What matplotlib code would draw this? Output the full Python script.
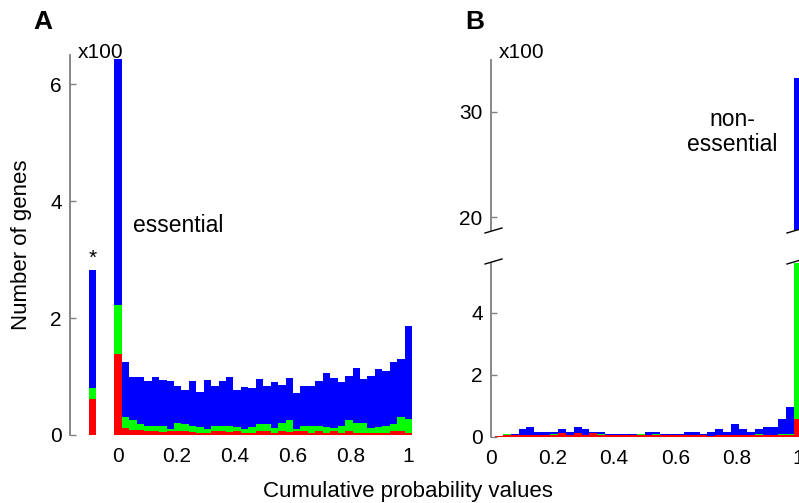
import numpy as np
import matplotlib
matplotlib.use('Agg')
import matplotlib.pyplot as plt
from matplotlib.lines import Line2D

plt.rcParams['font.family'] = ['Liberation Sans', 'DejaVu Sans']

# gene counts per bin of cumulative probability (40 bins, 0 .. 1)
# essential genes: red / green / blue stacked segments
ess_red = [138, 12, 9, 8, 7, 6, 5, 6, 7, 6, 5, 3, 3, 7, 7, 5, 6, 4, 4, 6,
           6, 4, 6, 5, 6, 7, 4, 7, 3, 6, 4, 7, 3, 4, 4, 3, 4, 6, 7, 4]
ess_green = [85, 19, 16, 11, 9, 9, 11, 5, 14, 13, 11, 11, 8, 9, 9, 11, 7, 7, 9, 13,
             13, 8, 15, 20, 5, 8, 11, 8, 11, 6, 11, 18, 18, 17, 8, 10, 11, 13, 24, 23]
ess_blue = [421, 94, 74, 81, 76, 85, 78, 82, 62, 58, 76, 60, 83, 67, 76, 84, 64, 71, 67, 76,
            64, 78, 65, 72, 61, 68, 68, 78, 92, 85, 75, 76, 94, 74, 89, 100, 95, 106, 99, 159]
# genes without a probability value (bar marked with *)
star_red, star_green, star_blue = 61, 19, 203

# non-essential genes
non_red = [0, 3, 5, 6, 6, 6, 6, 6, 6, 13, 6, 13, 6, 13, 6, 6, 6, 6, 6, 6,
           6, 6, 6, 6, 6, 6, 6, 6, 2, 6, 6, 6, 6, 6, 6, 6, 6, 6, 6, 58]
non_green = [0, 0, 5, 0, 0, 0, 0, 0, 4, 0, 0, 0, 0, 0, 4, 0, 0, 0, 0, 4,
             0, 4, 0, 0, 0, 0, 0, 0, 0, 0, 0, 0, 0, 0, 4, 0, 0, 5, 5, 700]
non_blue = [1, 0, 0, 3, 19, 27, 11, 11, 7, 12, 11, 20, 19, 4, 7, 4, 4, 4, 4, 0,
            11, 7, 4, 4, 4, 11, 11, 4, 15, 19, 11, 36, 19, 11, 15, 27, 27, 46, 87, 2562]

xticks = [0, 0.2, 0.4, 0.6, 0.8, 1]
xticklabels = ['0', '0.2', '0.4', '0.6', '0.8', '1']

W, H = 799, 503
fig = plt.figure(figsize=(W / 100, H / 100), dpi=100)
GREY = '#7f7f7f'
COLS = ['#ff0000', '#00ff00', '#0000ff']


def add_px_axes(x0, y0, x1, y1):
    return fig.add_axes([x0 / W, 1 - y1 / H, (x1 - x0) / W, (y1 - y0) / H])


def style(ax):
    for s in ['top', 'right', 'bottom']:
        ax.spines[s].set_visible(False)
    ax.spines['left'].set_color(GREY)
    ax.spines['left'].set_linewidth(1.3)
    ax.tick_params(axis='y', direction='in', length=4.5, width=1, color=GREY,
                   labelsize=15, pad=6)
    ax.tick_params(axis='x', length=0, labelsize=15, pad=9)
    ax.patch.set_visible(False)


def stacked(ax, x, red, green, blue, width):
    red = np.asarray(red) / 100
    green = np.asarray(green) / 100
    blue = np.asarray(blue) / 100
    bottom = np.zeros_like(red)
    for vals, c in zip([red, green, blue], COLS):
        ax.bar(x, vals, width=width, bottom=bottom, color=c, linewidth=0)
        bottom = bottom + vals


n_bins = len(ess_red)
centers = np.linspace(0, 1, n_bins)
bw = 1 / (n_bins - 1)

# panel A: essential
axA = add_px_axes(70, 55, 417, 435)
stacked(axA, centers, ess_red, ess_green, ess_blue, bw)
star_x = -0.088
stacked(axA, [star_x], [star_red], [star_green], [star_blue], bw)
star_top = (star_red + star_green + star_blue) / 100
axA.text(star_x, star_top + 0.03, '*', ha='center', va='bottom', fontsize=15)
axA.set_xlim(-0.166, 1.03)
axA.set_ylim(0, 6.5)
axA.set_yticks([0, 2, 4, 6])
axA.set_yticklabels(['0', '2', '4', '6'])
axA.set_xticks(xticks)
axA.set_xticklabels(xticklabels)
style(axA)

# panel B: non-essential, broken y axis
axB = add_px_axes(491, 263, 802, 437)
stacked(axB, centers, non_red, non_green, non_blue, bw)
axB.set_xlim(0, 1.013)
axB.set_ylim(0, 5.6)
axB.set_yticks([0, 2, 4])
axB.set_yticklabels(['0', '2', '4'])
axB.set_xticks(xticks)
axB.set_xticklabels(xticklabels)
style(axB)

axBt = add_px_axes(491, 60, 802, 230)
stacked(axBt, centers, non_red, non_green, non_blue, bw)
axBt.set_xlim(0, 1.013)
axBt.set_ylim(18.8, 34.9)
axBt.set_yticks([20, 30])
axBt.set_yticklabels(['20', '30'])
axBt.set_xticks([])
style(axBt)

# break marks
for x0 in (485, 787):
    for y0 in (233, 264):
        fig.add_artist(Line2D([x0 / W, (x0 + 17) / W], [1 - y0 / H, 1 - (y0 - 5) / H],
                              color='black', lw=1))

fig.text(78 / W, 1 - 58 / H, 'x100', fontsize=15, va='baseline')
fig.text(499 / W, 1 - 58 / H, 'x100', fontsize=15, va='baseline')
fig.text(178 / W, 1 - 225 / H, 'essential', fontsize=16.5, ha='center', va='center')
fig.text(732 / W, 1 - 132 / H, 'non-\nessential', fontsize=16.5, ha='center',
         va='center', multialignment='center', linespacing=1.15)
fig.text(43 / W, 1 - 22 / H, 'A', fontsize=19, fontweight='bold', ha='center', va='center')
fig.text(475 / W, 1 - 22 / H, 'B', fontsize=19, fontweight='bold', ha='center', va='center')
fig.text(22 / W, 1 - 245 / H, 'Number of genes', fontsize=16, rotation=90,
         ha='center', va='center')
fig.text(408 / W, 1 - 491 / H, 'Cumulative probability values', fontsize=16,
         ha='center', va='center')

fig.savefig('out.png', dpi=100)
